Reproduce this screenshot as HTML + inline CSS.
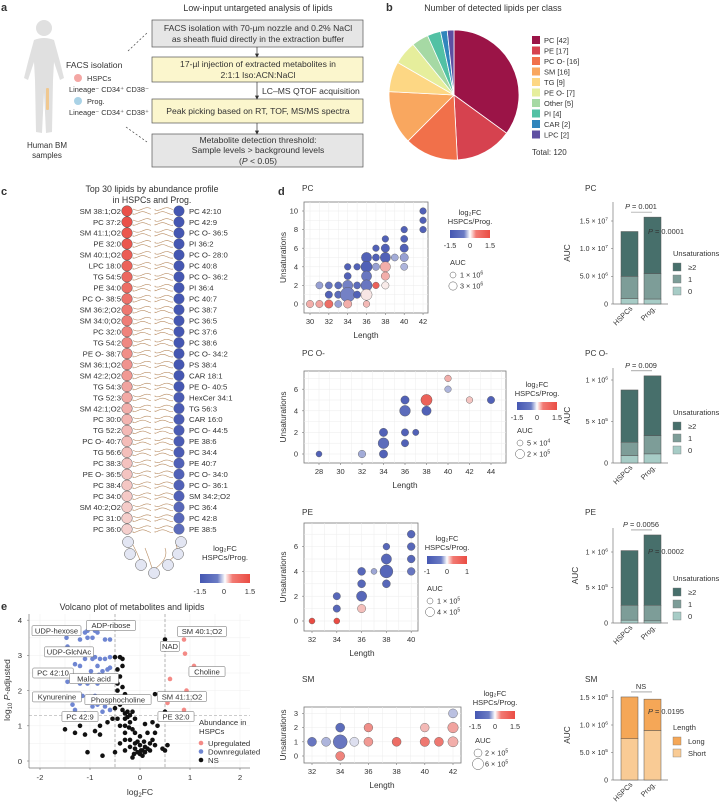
<!DOCTYPE html>
<html><head><meta charset="utf-8">
<style>
html,body{margin:0;padding:0;background:#fff;}
svg{display:block;font-family:"Liberation Sans",sans-serif;}
text{fill:#333;}
</style></head>
<body>
<svg id="fig" width="722" height="803" viewBox="0 0 722 803" xmlns="http://www.w3.org/2000/svg">
<!-- Panel a -->
<g>
<text x="1" y="11" font-size="11" font-weight="bold" fill="#000">a</text>
<text x="258" y="11" font-size="8.8" text-anchor="middle">Low-input untargeted analysis of lipids</text>
<g fill="#e0e0e0">
<circle cx="44" cy="28" r="8"/>
<path d="M34 40 Q44 36 54 40 L60 62 L64 78 L60 80 L54 62 L53 80 L52 132 L46 133 L44 92 L42 133 L36 132 L35 80 L34 62 L28 80 L24 78 L28 62 Z"/>
<rect x="46" y="88" width="3" height="22" rx="1" fill="#f0c890"/>
</g>
<text x="66" y="68" font-size="8.6">FACS isolation</text>
<circle cx="78" cy="78" r="4" fill="#f4a7a4"/>
<text x="87" y="81" font-size="7.4" fill="#f08d87">HSPCs</text>
<text x="69" y="92" font-size="7.4" fill="#f08d87">Lineage⁻ CD34⁺ CD38⁻</text>
<circle cx="78" cy="101" r="4" fill="#a9d2e6"/>
<text x="87" y="104" font-size="7.4" fill="#7d8fd0">Prog.</text>
<text x="69" y="115" font-size="7.4" fill="#7d8fd0">Lineage⁻ CD34⁺ CD38⁺</text>
<text x="47" y="148" font-size="8" text-anchor="middle">Human BM</text>
<text x="47" y="158" font-size="8" text-anchor="middle">samples</text>
<line x1="128" y1="51" x2="147" y2="33" stroke="#444" stroke-width="0.7" stroke-dasharray="2,2"/>
<line x1="126" y1="127" x2="147" y2="142" stroke="#444" stroke-width="0.7" stroke-dasharray="2,2"/>
<rect x="152" y="20" width="211" height="27" fill="#e6e6e6" stroke="#555" stroke-width="0.7"/>
<text x="258" y="31" font-size="8.6" text-anchor="middle">FACS isolation with 70-µm nozzle and 0.2% NaCl</text>
<text x="258" y="42" font-size="8.6" text-anchor="middle">as sheath fluid directly in the extraction buffer</text>
<rect x="152" y="57" width="211" height="25" fill="#fbf6cd" stroke="#555" stroke-width="0.7"/>
<text x="258" y="67" font-size="8.6" text-anchor="middle">17-µl injection of extracted metabolites in</text>
<text x="258" y="78" font-size="8.6" text-anchor="middle">2:1:1 Iso:ACN:NaCl</text>
<text x="262" y="94" font-size="8.6">LC–MS QTOF acquisition</text>
<rect x="152" y="99" width="211" height="24" fill="#fbf6cd" stroke="#555" stroke-width="0.7"/>
<text x="258" y="114" font-size="8.6" text-anchor="middle">Peak picking based on RT, TOF, MS/MS spectra</text>
<rect x="152" y="134" width="211" height="33" fill="#e6e6e6" stroke="#555" stroke-width="0.7"/>
<text x="258" y="143" font-size="8.6" text-anchor="middle">Metabolite detection threshold:</text>
<text x="258" y="153" font-size="8.6" text-anchor="middle">Sample levels &gt; background levels</text>
<text x="258" y="164" font-size="8.6" text-anchor="middle">(<tspan font-style="italic">P</tspan> &lt; 0.05)</text>
<g stroke="#333" stroke-width="0.7" fill="#333">
<line x1="257" y1="47" x2="257" y2="55"/><path d="M255.5 54 L258.5 54 L257 57 Z"/>
<line x1="257" y1="82" x2="257" y2="97"/><path d="M255.5 96 L258.5 96 L257 99 Z"/>
<line x1="257" y1="123" x2="257" y2="132"/><path d="M255.5 131 L258.5 131 L257 134 Z"/>
</g>
</g>
<!-- Panel b -->
<text x="386" y="11" font-size="11" font-weight="bold" fill="#000">b</text>
<text x="493" y="11" font-size="8.8" text-anchor="middle">Number of detected lipids per class</text>
<g id="pie"></g>
<!-- Panel c -->
<text x="1" y="195" font-size="11" font-weight="bold" fill="#000">c</text>
<text x="152" y="192" font-size="8.8" text-anchor="middle">Top 30 lipids by abundance profile</text>
<text x="152" y="203" font-size="8.8" text-anchor="middle">in HSPCs and Prog.</text>
<g id="lipids"></g>
<!-- Panel d -->
<text x="278" y="195" font-size="11" font-weight="bold" fill="#000">d</text>
<g id="dpanel"></g>
<!-- Panel e -->
<text x="1" y="610" font-size="11" font-weight="bold" fill="#000">e</text>
<text x="132" y="610" font-size="8.8" text-anchor="middle">Volcano plot of metabolites and lipids</text>
<g id="volcano"></g>
</svg>
<script>
// ---------- Pie data ----------
const pieClasses = ["PC","PE","PC O-","SM","TG","PE O-","Other","PI","CAR","LPC"];
const pieCounts = [42,17,16,16,9,7,5,4,2,2];
const pieColors = ["#9b1447","#d6424f","#f1704a","#f9a75f","#fdd784","#e6ee9c","#a6d9a4","#52c1a4","#3186bc","#5e4fa2"];

// ---------- Panel c data ----------
const leftLipids = ["SM 38:1;O2","PC 37:2","SM 41:1;O2","PE 32:0","SM 40:1;O2","LPC 18:0","TG 54:5","PE 34:0","PC O- 38:5","SM 36:2;O2","SM 34:0;O2","PC 32:0","TG 54:2","PE O- 38:7","SM 36:1;O2","SM 42:2;O2","TG 54:3","TG 52:3","SM 42:1;O2","PC 30:0","TG 52:2","PC O- 40:7","TG 56:6","PC 38:3","PE O- 36:5","PC 38:4","PC 34:0","SM 40:2;O2","PC 31:0","PC 36:0"];
const rightLipids = ["PC 42:10","PC 42:9","PC O- 36:5","PI 36:2","PC O- 28:0","PC 40:8","PC O- 36:2","PI 36:4","PC 40:7","PC 38:7","PC 36:5","PC 37:6","PC 38:6","PC O- 34:2","PS 38:4","CAR 18:1","PE O- 40:5","HexCer 34:1","TG 56:3","CAR 16:0","PC O- 44:5","PE 38:6","PC 34:4","PE 40:7","PC O- 34:0","PC O- 36:1","SM 34:2;O2","PC 36:4","PC 42:8","PE 38:5"];
const leftFC = [1.45,1.45,1.4,1.4,1.35,1.3,1.25,1.2,1.15,1.1,1.05,1.0,0.95,0.9,0.85,0.8,0.7,0.65,0.6,0.55,0.5,0.48,0.45,0.42,0.4,0.38,0.36,0.34,0.32,0.3];
const rightFC = [-1.5,-1.5,-1.5,-1.5,-1.5,-1.5,-1.5,-1.5,-1.5,-1.5,-1.5,-1.5,-1.5,-1.5,-1.5,-1.5,-1.5,-1.45,-1.45,-1.45,-1.45,-1.45,-1.45,-1.4,-1.4,-1.4,-1.4,-1.35,-1.35,-1.3];

// ---------- Panel d scatter data ----------
const pcLen =   [42,42,42,40,38,40,37,38,40,36,37,38,39,40,34,35,36,37,38,40,34,36,38,31,32,33,34,35,36,37,38,32,33,34,35,36,30,31,32,33,34,36];
const pcUns =   [10,9,8,8,7,7,6,6,6,5,5,5,5,5,4,4,4,4,4,4,3,3,3,2,2,2,2,2,2,2,2,1,1,1,1,1,0,0,0,0,0,0];
const pcFC =    [-1.4,-1.4,-1.4,-1.4,-1.4,-1.4,-1.4,-1.4,-1.4,-1.4,-1.4,-1.4,-0.7,-0.8,-1.4,-1.4,-1.4,-0.8,0.6,-0.6,-1.4,-1.2,0.6,-0.8,-1.2,-1.3,-1.1,-1.3,-1.2,1.3,0.05,-1.4,-1.3,-1.1,-1.4,0.1,0.6,0.7,1.2,-0.8,0.6,0.5];
const pcAUC =   [1.4e6,1.4e6,1.4e6,1.4e6,1.4e6,1.8e6,1.4e6,3e6,3e6,6e6,1.8e6,6e6,1.8e6,3e6,1.4e6,1.4e6,8e6,2e6,6e6,1.8e6,1.8e6,6e6,3e6,1.8e6,1.8e6,1.8e6,6e6,1.8e6,8e6,1.4e6,2e6,2e6,2e6,20e6,2e6,8e6,2e6,2e6,3e6,1.8e6,3e6,1.4e6];

const pcoLen = [28,32,34,34,34,36,36,37,36,38,36,38,40,40,42,44];
const pcoUns = [0,0,0,1,2,1,2,2,4,4,5,5,6,7,5,5];
const pcoFC =  [-1.4,-0.7,-1.4,-1.3,-1.4,-1.4,-1.4,-1.4,-1.3,-1.4,-1.4,1.3,-0.6,0.6,0.4,-1.4];
const pcoAUC = [5e4,1.1e5,1.5e5,3.5e5,1.5e5,1e5,1e5,6e4,3.5e5,2.2e5,1.5e5,4e5,7e4,7e4,7e4,1e5];

const peLen = [32,34,34,34,36,36,36,36,37,38,38,38,38,40,40,40,40];
const peUns = [0,0,1,2,1,2,3,4,4,4,3,5,6,4,5,6,7];
const peFC =  [1.0,1.0,-0.9,-0.9,0.3,-0.9,-0.9,-0.9,-0.5,-0.9,-0.9,-0.9,-0.9,-0.8,-0.9,-0.9,-0.9];
const peAUC = [1e5,1e5,2e5,2e5,3e5,6e5,2.6e5,2.6e5,1e5,1.3e6,2.6e5,6e5,1.5e5,2.4e5,2.4e5,2.4e5,2.4e5];

const smLen = [42,34,36,40,42,32,33,34,35,36,38,40,41,42,34];
const smUns = [3,2,2,2,2,1,1,1,1,1,1,1,1,1,0];
const smFC =  [-0.5,-1.3,0.9,0.5,0.7,-1.2,-0.6,-1.2,-0.2,0.8,1.2,1.1,1.1,0.6,1.0];
const smAUC = [3e5,3e5,2.7e5,2.7e5,5e5,3e5,3e5,1.3e6,3e5,3e5,3e5,3.5e5,3e5,4.5e5,3e5];

// ---------- Panel d stacked bars (HSPCs, Prog.) ----------
const barGroups = ["HSPCs","Prog."];
const pcSat0 = [0.1e7,0.09e7];
const pcSat1 = [0.4e7,0.46e7];
const pcSat2 = [0.81e7,1.02e7];
const pcoSat0 = [0.9e5,1.1e5];
const pcoSat1 = [1.6e5,2.2e5];
const pcoSat2 = [6.3e5,7.2e5];
const peSat0 = [0.4e5,0.3e5];
const peSat1 = [2.1e5,2.2e5];
const peSat2 = [7.7e5,9.9e5];
const smShort = [7.5e5,9.0e5];
const smLong = [7.6e5,5.7e5];

// ---------- Volcano data ----------
const downX = [-1.47,-1.1,-1.05,-0.85,-0.9,-1.2,-1.05,-0.95,-0.7,-0.6,-1.45,-1.25,-1.1,-0.95,-0.9,-0.8,-0.7,-0.6,-1.3,-1.2,-0.85,-0.75,-0.65,-0.6,-1.45,-1.2,-1.2,-1.0,-0.85,-1.05,-0.75,-0.65,-0.55,-1.4,-1.15,-1.0,-0.9,-0.8,-1.35,-1.3,-0.95,-0.85,-0.7,-0.6,-0.75,-1.1,-0.98,-0.82];
const downY = [3.5,3.65,3.7,3.65,3.7,3.45,3.5,3.5,3.45,3.45,3.25,3.1,2.9,2.9,2.95,2.9,2.9,2.95,2.75,2.7,2.7,2.55,2.6,2.65,2.25,2.4,2.2,2.35,2.2,2.2,2.3,2.3,2.25,1.9,1.85,1.8,1.85,1.7,1.6,1.45,1.55,1.6,1.55,1.45,1.4,1.35,2.55,2.45];
const upX = [0.88,0.9,1.08,0.6,0.93,0.88,0.55];
const upY = [3.45,3.05,2.7,2.33,2.0,1.45,1.65];
const nsX = [-0.5,-0.4,-0.35,-0.35,-0.45,-0.5,-0.4,-0.45,-0.35,-0.45,-0.3,-0.48,-0.4,-0.5,-0.35,-0.3,-0.25,-0.15,-0.45,-0.3,-0.2,-0.1,-0.4,-0.3,-0.15,-0.55,-0.65,-0.8,-1.0,-0.9,-1.2,-1.3,-1.5,-1.1,-0.8,-0.4,-0.3,-0.2,-0.1,0,0.05,-0.05,0.1,0.15,0.2,0.25,0.3,-0.1,0,0.1,-0.2,-0.3,0.2,0.3,0.35,0.25,0.4,0.5,0.55,0.45,0.5,-1.05,-0.75,-0.5,0.3,0.4,0.45,0.5,0.5,-0.15,0.05,0,0.15,0.1,-0.1,0.5,0.5,-0.25,-0.2,-0.05,0.08,-0.12,0.02,-0.3,-0.22];
const nsY = [2.95,2.95,2.9,2.7,2.6,2.4,2.4,2.2,2.1,2.0,1.9,1.8,1.6,1.5,1.45,1.35,1.4,1.4,1.2,1.2,1.1,1.2,1.0,1.0,0.9,1.2,1.1,1.0,1.2,0.85,1.0,0.8,0.9,0.75,0.75,0.5,0.6,0.6,0.5,0.45,0.3,0.25,0.25,0.35,0.5,0.6,0.45,0.35,0.2,0.4,0.4,0.3,0.3,0.8,1.0,1.1,1.2,1.2,0.45,0.35,0.3,0.25,0.15,0.25,1.9,1.85,1.75,1.8,3.45,0.1,0.15,0.7,0.8,1.05,0.8,1.4,1.75,1.25,1.3,0.55,0.55,0.2,0.3,0.8,0.95];
const volLabels = ["UDP-hexose","ADP-ribose","UDP-GlcNAc","PC 42:10","Malic acid","Kynurenine","Phosphocholine","PC 42:9","SM 40:1;O2","NAD","Choline","SM 41:1;O2","PE 32:0"];
const volLabelX = [-1.67,-0.58,-1.42,-1.74,-0.92,-1.66,-0.44,-1.2,1.24,0.6,1.34,0.84,0.72];
const volLabelY = [3.7,3.85,3.1,2.5,2.34,1.82,1.74,1.26,3.68,3.26,2.54,1.83,1.26];

// ---------- helpers ----------
const NS = "http://www.w3.org/2000/svg";
const FS = 1.25;
function el(parent, tag, attrs, name) {
  const e = document.createElementNS(NS, tag);
  for (const k in attrs) e.setAttribute(k, attrs[k]);
  
  
  parent.appendChild(e);
  return e;
}
function txt(parent, x, y, s, size, anchor, name, extra) {
  const a = Object.assign({x: x, y: y, 'font-size': size*FS, 'text-anchor': anchor || 'start'}, extra || {});
  const e = el(parent, 'text', a, name);
  e.textContent = s;
  return e;
}
function sci(parent, x, y, mant, exp, size, anchor, name) {
  const e = el(parent, 'text', {x: x, y: y, 'font-size': size*FS, 'text-anchor': anchor}, name);
  e.appendChild(document.createTextNode(mant + ' × 10'));
  const sp = document.createElementNS(NS, 'tspan');
  sp.setAttribute('dy', -3);
  sp.setAttribute('font-size', size * FS * 0.7);
  sp.textContent = exp;
  e.appendChild(sp);
  return e;
}
function hex(c){return [parseInt(c.slice(1,3),16),parseInt(c.slice(3,5),16),parseInt(c.slice(5,7),16)];}
function mix(a,b,t){const A=hex(a),B=hex(b);return 'rgb('+A.map((v,i)=>Math.round(v+(B[i]-v)*t)).join(',')+')';}
function fcColor(fc, max) {
  const t = Math.min(1, Math.abs(fc) / max);
  return fc < 0 ? mix('#f4f4f8', '#4557b2', t) : mix('#f8f0ef', '#ea4c43', t);
}

// ---------- Pie ----------
(function(){
  const g = document.getElementById('pie');
  const cx = 454, cy = 95, r = 65;
  const total = pieCounts.reduce((a,b)=>a+b,0);
  let ang = -Math.PI/2;
  pieCounts.forEach((c,i)=>{
    const a2 = ang + c/total*2*Math.PI;
    const x1 = cx + r*Math.cos(ang), y1 = cy + r*Math.sin(ang);
    const x2 = cx + r*Math.cos(a2), y2 = cy + r*Math.sin(a2);
    const large = (a2-ang) > Math.PI ? 1 : 0;
    el(g,'path',{d:`M${cx},${cy} L${x1},${y1} A${r},${r} 0 ${large} 1 ${x2},${y2} Z`, fill: pieColors[i], stroke:'#fff','stroke-width':0.8}, 'pie-slice-' + pieClasses[i].toLowerCase().replace(/[^a-z]/g,''));
    ang = a2;
    const ly = 40 + i*10.5;
    el(g,'rect',{x:532,y:ly-4,width:8,height:8,fill:pieColors[i]}, 'legend-swatch');
    txt(g,544,ly+3,pieClasses[i]+' ['+c+']',6,'start','legend-entry');
  });
  txt(g,532,155,'Total: '+total,6.4,'start','pie-total');
})();

// ---------- Lipid panel c ----------
(function(){
  const g = document.getElementById('lipids');
  const y0 = 211, dy = 10.97, xl = 127, xr = 179;
  function wave(x1,x2,y,ph){
    let d = `M${x1},${y}`;
    for (let x=x1; x<=x2; x+=1) d += ` L${x},${(y+1.3*Math.sin((x-x1)/3+ph)).toFixed(2)}`;
    return d;
  }
  leftLipids.forEach((n,i)=>{
    const y = y0 + i*dy;
    el(g,'path',{d:wave(133,151,y-2,0),fill:'none',stroke:'#b88c62','stroke-width':0.6},'lipid-tail');
    el(g,'path',{d:wave(133,151,y+2,1.5),fill:'none',stroke:'#b88c62','stroke-width':0.6},'lipid-tail');
    el(g,'path',{d:wave(155,173,y-2,0.8),fill:'none',stroke:'#b88c62','stroke-width':0.6},'lipid-tail');
    el(g,'path',{d:wave(155,173,y+2,2.2),fill:'none',stroke:'#b88c62','stroke-width':0.6},'lipid-tail');
    el(g,'circle',{cx:xl,cy:y,r:5.3,fill:fcColor(leftFC[i],1.5),stroke:'#555','stroke-width':0.5},'lipid-head-hspc');
    el(g,'circle',{cx:xr,cy:y,r:5.3,fill:fcColor(rightFC[i],1.5),stroke:'#555','stroke-width':0.3},'lipid-head-prog');
    txt(g,121,y+2.8,n,6.2,'end','lipid-label-left');
    txt(g,189,y+2.8,rightLipids[i],6.2,'start','lipid-label-right');
  });
  const bx = [[128,542],[181,542],[130,554],[141,565],[154,573],[168,565],[178,554]];
  [[133,545,140,560],[176,545,170,560],[145,548,152,568],[165,548,156,568]].forEach(p=>{
    el(g,'path',{d:`M${p[0]},${p[1]} Q${p[0]+4},${(p[1]+p[3])/2} ${p[2]},${p[3]}`,fill:'none',stroke:'#b88c62','stroke-width':0.6},'lipid-tail-curl');
  });
  bx.forEach(p=>el(g,'circle',{cx:p[0],cy:p[1],r:5.5,fill:'#e3e6f3',stroke:'#555','stroke-width':0.5},'micelle-head'));
  txt(g,225,551,'log₂FC',6.2,'middle','colorbar-title');
  txt(g,225,560,'HSPCs/Prog.',6.2,'middle','colorbar-subtitle');
  const defs = el(document.getElementById('fig'),'defs',{},'defs');
  const lg = el(defs,'linearGradient',{id:'fcgrad',x1:0,x2:1,y1:0,y2:0},'fc-gradient');
  [['0','#4557b2'],['0.35','#6a7bc4'],['0.5','#ffffff'],['0.65','#f27a73'],['1','#ea4c43']].forEach(s=>el(lg,'stop',{offset:s[0],'stop-color':s[1]},'gradient-stop'));
  el(g,'rect',{x:200,y:574,width:50,height:9,fill:'url(#fcgrad)'},'colorbar');
  txt(g,200,594,'-1.5',6,'middle','colorbar-tick');
  txt(g,224,594,'0',6,'middle','colorbar-tick');
  txt(g,250,594,'1.5',6,'middle','colorbar-tick');
})();

// ---------- Panel d scatter ----------
function scatter(cfg, L, U, F, A) {
  const g = el(document.getElementById('dpanel'),'g',{},cfg.name);
  const xAt = v => cfg.xp0 + (v-cfg.xv0)*cfg.xk;
  const yAt = v => cfg.y0 - v*cfg.yk;
  const [bx0,by0,bx1,by1] = cfg.box;
  txt(g,302,cfg.titleY,cfg.title,6.6,'start','scatter-title');
  el(g,'rect',{x:bx0,y:by0,width:bx1-bx0,height:by1-by0,fill:'#fff',stroke:'#777','stroke-width':0.8},'plot-area');
  for (let v=cfg.xmin-1; v<=cfg.xmax+1; v+=1) { const x=xAt(v); if(x>bx0&&x<bx1) el(g,'line',{x1:x,x2:x,y1:by0,y2:by1,stroke:'#ececec','stroke-width':0.5},'grid-x'); }
  for (let v=-1; v<=cfg.ymax+1; v+=1) { const y=yAt(v); if(y>by0&&y<by1) el(g,'line',{x1:bx0,x2:bx1,y1:y,y2:y,stroke:'#ececec','stroke-width':0.5},'grid-y'); }
  for (let v=cfg.xmin; v<=cfg.xmax; v+=2) { el(g,'line',{x1:xAt(v),x2:xAt(v),y1:by1,y2:by1+2,stroke:'#777','stroke-width':0.6},'x-tick'); txt(g,xAt(v),by1+11,String(v),6,'middle','x-tick-label'); }
  for (let v=0; v<=cfg.ymax; v+=cfg.ystep) { el(g,'line',{x1:bx0-2,x2:bx0,y1:yAt(v),y2:yAt(v),stroke:'#777','stroke-width':0.6},'y-tick'); txt(g,bx0-6,yAt(v)+2.6,String(v),6,'end','y-tick-label'); }
  txt(g,cfg.lenX,by1+25,'Length',6.6,'middle','x-axis-title');
  txt(g,0,0,'Unsaturations',6.6,'middle','y-axis-title',{transform:`translate(286,${(by0+by1)/2}) rotate(-90)`});
  const rad = a => cfg.r0*Math.pow(a/cfg.a0,0.3);
  L.forEach((l,i)=>{
    el(g,'circle',{cx:xAt(l),cy:yAt(U[i]),r:rad(A[i]),fill:fcColor(F[i],cfg.fcMax),stroke:'#555','stroke-width':0.4},'lipid-point');
  });
  const lx = cfg.legX, ly = cfg.legY;
  txt(g,lx+20,ly,'log₂FC',6,'middle','legend-title');
  txt(g,lx+20,ly+9,'HSPCs/Prog.',6,'middle','legend-subtitle');
  el(g,'rect',{x:lx,y:ly+15,width:40,height:8,fill:'url(#fcgrad)'},'legend-colorbar');
  txt(g,lx,ly+33,cfg.fcTicks[0],5.8,'middle','legend-tick');
  txt(g,lx+20,ly+33,'0',5.8,'middle','legend-tick');
  txt(g,lx+40,ly+33,cfg.fcTicks[1],5.8,'middle','legend-tick');
  txt(g,lx,ly+cfg.aucDy,'AUC',6,'start','auc-legend-title');
  cfg.aucLeg.forEach((a,k)=>{
    const yy = ly+cfg.aucDy+10+k*11;
    el(g,'circle',{cx:lx+3,cy:yy,r:rad(a[0]),fill:'#fff',stroke:'#555','stroke-width':0.5},'auc-legend-circle');
    sci(g,lx+10,yy+2.6,a[1],a[2],5.8,'start','auc-legend-label');
  });
}
scatter({name:'pc-scatter',title:'PC',titleY:191,box:[304,202,428,313],xv0:30,xp0:310,xk:9.42,y0:304,yk:9.3,xmin:30,xmax:42,ymax:10,ystep:2,lenX:366,r0:3,a0:1e6,fcMax:1.5,legX:450,legY:215,fcTicks:['-1.5','1.5'],aucDy:50,aucLeg:[[1e6,'1','6'],[3e6,'3','6']]}, pcLen,pcUns,pcFC,pcAUC);
scatter({name:'pco-scatter',title:'PC O-',titleY:356,box:[304,371,506,463],xv0:28,xp0:319,xk:10.75,y0:454,yk:10.8,xmin:28,xmax:44,ymax:6,ystep:2,lenX:405,r0:3,a0:5e4,fcMax:1.5,legX:517,legY:387,fcTicks:['-1.5','1.5'],aucDy:46,aucLeg:[[5e4,'5','4'],[2e5,'2','5']]}, pcoLen,pcoUns,pcoFC,pcoAUC);
scatter({name:'pe-scatter',title:'PE',titleY:515,box:[304,523,418,631],xv0:32,xp0:312,xk:12.4,y0:621,yk:12.4,xmin:32,xmax:40,ymax:6,ystep:2,lenX:362,r0:3,a0:1e5,fcMax:1,legX:427,legY:541,fcTicks:['-1','1'],aucDy:50,aucLeg:[[1e5,'1','5'],[4e5,'4','5']]}, peLen,peUns,peFC,peAUC);
scatter({name:'sm-scatter',title:'SM',titleY:682,box:[304,707,461,763],xv0:32,xp0:312,xk:14.1,y0:756,yk:14.2,xmin:32,xmax:42,ymax:3,ystep:1,lenX:382,r0:4,a0:2e5,fcMax:1.5,legX:475,legY:696,fcTicks:['-1.5','1.5'],aucDy:47,aucLeg:[[2e5,'2','5'],[6e5,'6','5']]}, smLen,smUns,smFC,smAUC);

// ---------- Panel d bars ----------
function bars(cfg, segs, colors, legTitle, legNames) {
  const g = el(document.getElementById('dpanel'),'g',{},cfg.name);
  const yAt = v => cfg.base - v*cfg.k;
  txt(g,585,cfg.titleY,cfg.title,6.6,'start','bar-chart-title');
  el(g,'line',{x1:613,x2:613,y1:cfg.top,y2:cfg.base,stroke:'#777','stroke-width':0.7},'y-axis');
  el(g,'line',{x1:613,x2:668,y1:cfg.base,y2:cfg.base,stroke:'#777','stroke-width':0.7},'x-axis');
  cfg.ticks.forEach(t=>{
    el(g,'line',{x1:611,x2:613,y1:yAt(t[0]),y2:yAt(t[0]),stroke:'#777','stroke-width':0.6},'y-tick');
    if (t[2]) sci(g,608,yAt(t[0])+2.4,t[1],t[2],5.6,'end','y-tick-label'); else txt(g,608,yAt(t[0])+2.4,t[1],5.6,'end','y-tick-label');
  });
  txt(g,0,0,'AUC',6.6,'middle','y-axis-title',{transform:`translate(${cfg.aucX},${(cfg.top+cfg.base)/2}) rotate(-90)`});
  const bxs = [621,644];
  barGroups.forEach((grp,i)=>{
    let acc = 0;
    segs.forEach((s,j)=>{
      el(g,'rect',{x:bxs[i],y:yAt(acc+s[i]),width:17,height:s[i]*cfg.k,fill:colors[j],stroke:'#555','stroke-width':0.5},'bar-segment-'+grp.toLowerCase().replace('.',''));
      acc += s[i];
    });
    txt(g,0,0,grp,5.8,'end','x-tick-label',{transform:`translate(${bxs[i]+12},${cfg.base+5}) rotate(-45)`});
  });
  const tot = i => segs.reduce((a,s)=>a+s[i],0);
  const ptop = Math.min(yAt(tot(0)),yAt(tot(1)));
  el(g,'line',{x1:631,x2:652,y1:ptop-5,y2:ptop-5,stroke:'#777','stroke-width':0.6},'significance-bracket');
  const pt = el(g,'text',{x:641,y:ptop-8,'font-size':7.4,'text-anchor':'middle'},'p-value-label');
  pt.innerHTML = cfg.p1;
  if (cfg.p2) { const p2 = el(g,'text',{x:648,y:cfg.p2y,'font-size':7.4},'p-value-label-2'); p2.innerHTML = cfg.p2; }
  txt(g,673,cfg.legY,legTitle,6,'start','bar-legend-title');
  legNames.forEach((n,j)=>{
    const yy = cfg.legY+11+j*12;
    el(g,'rect',{x:673,y:yy-4,width:8,height:8,fill:colors[colors.length-1-j],stroke:'#777','stroke-width':0.4},'bar-legend-swatch');
    txt(g,688,yy+3,n,6,'start','bar-legend-label');
  });
}
const teal = ['#a7ccc6','#7d9d98','#476f6b'];
bars({name:'pc-bars',title:'PC',titleY:191,base:304,k:83/1.5e7,top:202,aucX:570,ticks:[[0,'0'],[5e6,'5.0','6'],[1e7,'1.0','7'],[1.5e7,'1.5','7']],p1:'<tspan font-style="italic">P</tspan> = 0.001',p2:'<tspan font-style="italic">P</tspan> = 0.0001',p2y:234,legY:256}, [pcSat0,pcSat1,pcSat2], teal, 'Unsaturations', ['≥2','1','0']);
bars({name:'pco-bars',title:'PC O-',titleY:356,base:463,k:83/1e6,top:368,aucX:570,ticks:[[0,'0'],[5e5,'5','5'],[1e6,'1','6']],p1:'<tspan font-style="italic">P</tspan> = 0.009',legY:415}, [pcoSat0,pcoSat1,pcoSat2], teal, 'Unsaturations', ['≥2','1','0']);
bars({name:'pe-bars',title:'PE',titleY:515,base:623,k:71/1e6,top:528,aucX:578,ticks:[[0,'0'],[5e5,'5','5'],[1e6,'1','6']],p1:'<tspan font-style="italic">P</tspan> = 0.0056',p2:'<tspan font-style="italic">P</tspan> = 0.0002',p2y:554,legY:581}, [peSat0,peSat1,peSat2], teal, 'Unsaturations', ['≥2','1','0']);
bars({name:'sm-bars',title:'SM',titleY:682,base:780,k:55/1e6,top:690,aucX:570,ticks:[[0,'0'],[5e5,'5.0','5'],[1e6,'1.0','6'],[1.5e6,'1.5','6']],p1:'NS',p2:'<tspan font-style="italic">P</tspan> = 0.0195',p2y:714,legY:730}, [smShort,smLong], ['#f9cb95','#f5a757'], 'Length', ['Long','Short']);

// ---------- Volcano ----------
(function(){
  const g = document.getElementById('volcano');
  const xAt = v => 140 + v*50;
  const yAt = v => 761 - v*35.2;
  for (let v=-2; v<=2; v+=0.5) el(g,'line',{x1:xAt(v),x2:xAt(v),y1:614,y2:768,stroke:'#efefef','stroke-width':0.5},'grid-x');
  for (let v=0; v<=4; v+=0.5) el(g,'line',{x1:29,x2:250,y1:yAt(v),y2:yAt(v),stroke:'#efefef','stroke-width':0.5},'grid-y');
  el(g,'line',{x1:29,x2:29,y1:614,y2:768,stroke:'#777','stroke-width':0.7},'y-axis');
  el(g,'line',{x1:29,x2:250,y1:768,y2:768,stroke:'#777','stroke-width':0.7},'x-axis');
  [-2,-1,0,1,2].forEach(v=>{ el(g,'line',{x1:xAt(v),x2:xAt(v),y1:768,y2:770,stroke:'#777','stroke-width':0.6},'x-tick'); txt(g,xAt(v),780,String(v),6.2,'middle','x-tick-label'); });
  [0,1,2,3,4].forEach(v=>{ el(g,'line',{x1:27,x2:29,y1:yAt(v),y2:yAt(v),stroke:'#777','stroke-width':0.6},'y-tick'); txt(g,22,yAt(v)+2.8,String(v),6.2,'end','y-tick-label'); });
  const xl = el(g,'text',{x:140,y:795,'font-size':8.6,'text-anchor':'middle'},'x-axis-title'); xl.innerHTML='log<tspan font-size="6" dy="2">2</tspan><tspan dy="-2">FC</tspan>';
  const yl = el(g,'text',{'font-size':8.6,'text-anchor':'middle',transform:'translate(10,690) rotate(-90)'},'y-axis-title'); yl.innerHTML='log<tspan font-size="6" dy="2">10</tspan><tspan dy="-2"> </tspan><tspan font-style="italic">P</tspan>-adjusted';
  [-0.5,0.5].forEach(v=>el(g,'line',{x1:xAt(v),x2:xAt(v),y1:614,y2:768,stroke:'#888','stroke-width':0.6,'stroke-dasharray':'3,2'},'fc-threshold-line'));
  el(g,'line',{x1:29,x2:250,y1:yAt(1.3),y2:yAt(1.3),stroke:'#999','stroke-width':0.6,'stroke-dasharray':'3,2'},'p-threshold-line');
  nsX.forEach((x,i)=>el(g,'circle',{cx:xAt(x),cy:yAt(nsY[i]),r:2.3,fill:'#111'},'point-ns'));
  downX.forEach((x,i)=>el(g,'circle',{cx:xAt(x),cy:yAt(downY[i]),r:2.3,fill:'#6f86d2'},'point-downregulated'));
  upX.forEach((x,i)=>el(g,'circle',{cx:xAt(x),cy:yAt(upY[i]),r:2.3,fill:'#f48a86'},'point-upregulated'));
  volLabels.forEach((s,i)=>{
    const w = s.length*4.3+6;
    const cx = xAt(volLabelX[i]), cy = yAt(volLabelY[i]);
    el(g,'rect',{x:cx-w/2,y:cy-5,width:w,height:10,fill:'#fff',stroke:'#666','stroke-width':0.5,rx:1},'point-label-box');
    txt(g,cx,cy+2.7,s,6.1,'middle','point-label');
  });
  txt(g,199,725,'Abundance in',6.2,'start','legend-title');
  txt(g,199,734,'HSPCs',6.2,'start','legend-title-2');
  [['Upregulated','#f48a86'],['Downregulated','#6f86d2'],['NS','#111']].forEach((e,i)=>{
    el(g,'circle',{cx:201,cy:743+i*8.5,r:2.3,fill:e[1]},'legend-marker');
    txt(g,208,746+i*8.5,e[0],6.2,'start','legend-entry');
  });
})();
</script>
</body></html>
